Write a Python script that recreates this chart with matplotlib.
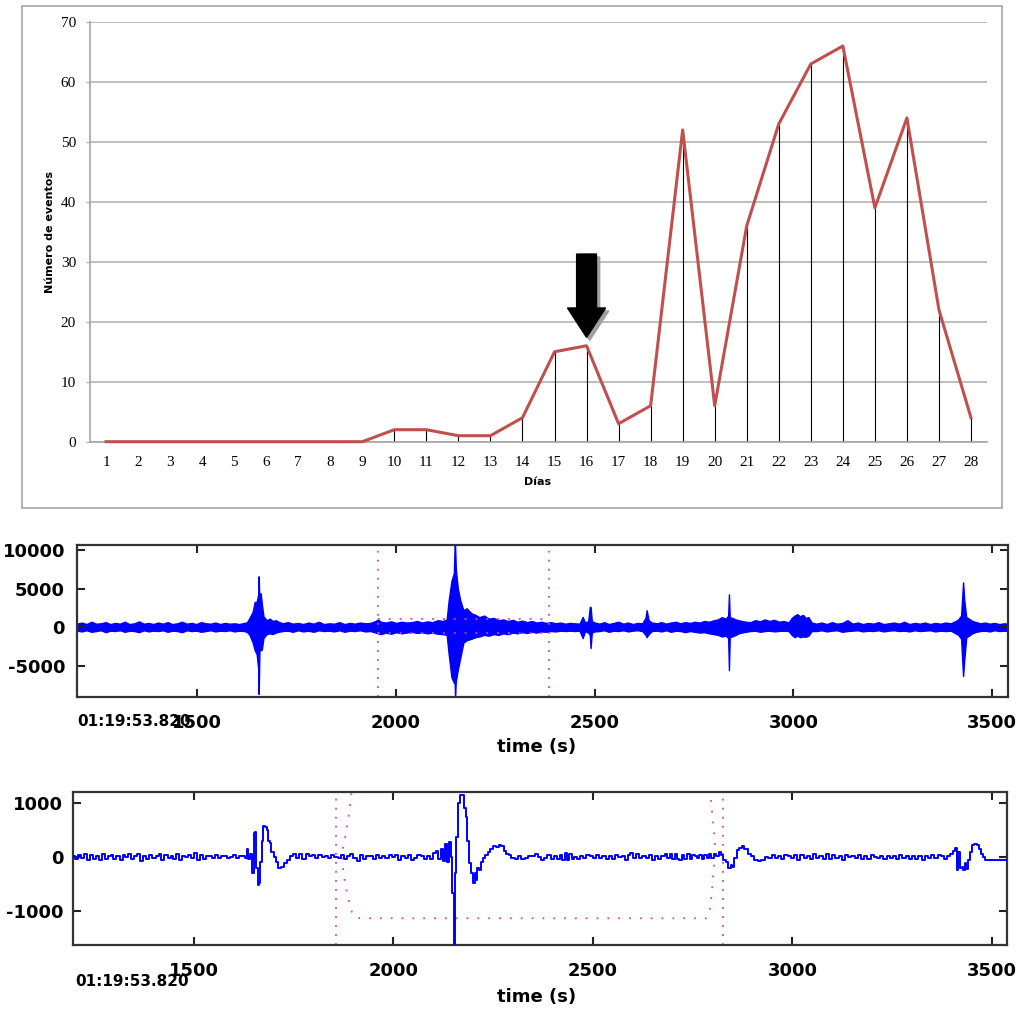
import matplotlib.pyplot as plt
from matplotlib.patches import FancyArrow, Rectangle

# ---- daily event counts (top chart) ----
days = list(range(1, 29))
counts = [0, 0, 0, 0, 0, 0, 0, 0, 0, 2, 2, 1, 1, 4, 15, 16, 3, 6,
          52, 6, 36, 53, 63, 66, 39, 54, 22, 4]
arrow_day = 16
arrow_tip, arrow_neck, arrow_top = 17.4, 22.3, 31.3

# ---- raw trace envelope (middle panel): time, upper, lower ----
raw_t = [1198, 1210, 1222, 1234, 1246, 1258, 1270, 1282, 1294, 1306, 1318, 1330,
         1342, 1354, 1366, 1378, 1390, 1402, 1414, 1426, 1438, 1450, 1462, 1474,
         1486, 1498, 1510, 1522, 1534, 1546, 1558, 1570, 1582, 1594, 1606, 1618,
         1625, 1632, 1640, 1645, 1650, 1654, 1655, 1657, 1660, 1663, 1667, 1675,
         1683, 1690, 1698, 1705,
         1715, 1728, 1741, 1754, 1767, 1780, 1793, 1806, 1819, 1832, 1845, 1858,
         1871, 1884, 1897, 1910, 1923, 1936, 1949, 1955, 1962, 1975, 1988, 2001,
         2014, 2027, 2040, 2053, 2066, 2079, 2092, 2105, 2118,
         2128, 2133, 2140, 2146, 2148, 2149, 2151, 2156, 2162, 2170, 2178, 2190,
         2200, 2210, 2222, 2234, 2246, 2258, 2270, 2282, 2294, 2306, 2318, 2330,
         2342, 2354, 2366, 2378, 2390, 2402, 2414, 2426, 2438, 2450, 2462,
         2470, 2476, 2484, 2488, 2490, 2493, 2500,
         2512, 2524, 2536, 2548, 2560, 2572, 2584, 2596, 2608, 2620,
         2628, 2631, 2636, 2644,
         2656, 2668, 2680, 2692, 2704, 2716, 2728, 2740, 2752, 2764, 2776, 2788,
         2800, 2810,
         2820, 2830, 2836, 2838, 2840, 2846, 2855, 2862, 2870, 2880,
         2892, 2904, 2916, 2928, 2940, 2952, 2964, 2976, 2988, 2996, 3003, 3010,
         3017, 3024, 3031, 3038, 3046,
         3058, 3071, 3084, 3097, 3110, 3123, 3136, 3149, 3162, 3175, 3188, 3201,
         3214, 3227, 3240, 3253, 3266, 3279, 3292, 3305, 3318, 3331, 3344, 3357,
         3370, 3383, 3396, 3408,
         3415, 3422, 3427, 3430, 3435, 3442, 3450, 3460, 3470,
         3482, 3494, 3506, 3518, 3530, 3540]
raw_hi = [450, 600, 400, 700, 450, 500, 650, 400, 550, 450, 700, 400,
          500, 750, 450, 550, 400, 600, 450, 650, 400, 500, 700, 450,
          550, 400, 650, 500, 450, 600, 400, 550, 450, 500, 400, 550,
          600, 1200, 2000, 3270, 3270, 4300, 6590, 3270, 4400, 3000, 1400, 900,
          1100, 800, 900, 700,
          500, 650, 450, 550, 400, 600, 450, 700, 400, 500, 450, 650,
          400, 550, 450, 600, 500, 550, 800, 1000, 700, 600, 750, 550,
          700, 600, 650, 800, 600, 750, 650, 900, 800,
          1000, 3500, 6000, 7000, 10700, 10700, 7500, 5000, 3500, 2200, 2450, 1800,
          1600, 1300, 1500, 1100, 1200, 900, 1000, 800, 950, 700, 850, 650,
          800, 600, 700, 550, 650, 500, 600, 450, 550, 500, 450,
          1330, 600, 800, 2620, 2620, 800, 600,
          450, 650, 400, 550, 700, 450, 600, 400, 550, 500,
          1200, 2200, 900, 600,
          500, 650, 450, 600, 700, 500, 650, 550, 700, 600, 800, 700,
          900, 1000,
          1300, 1100, 1500, 4260, 1300, 1200, 1000, 900, 800, 700,
          650, 900, 750, 1000, 800, 950, 700, 800, 600, 1200, 1500, 1680,
          1400, 1600, 1200, 1300, 600,
          450, 600, 400, 650, 450, 550, 900, 450, 600, 400, 550, 450,
          650, 400, 500, 600, 450, 700, 400, 550, 450, 600, 400, 550,
          450, 600, 500, 800,
          1000, 1500, 5810, 3500, 1300, 1100, 800, 650, 500,
          600, 450, 550, 400, 500, 450]
raw_lo = [-450, -550, -400, -600, -500, -400, -650, -450, -500, -400, -600, -450,
          -500, -650, -400, -550, -450, -500, -400, -600, -450, -500, -650, -400,
          -500, -450, -600, -500, -400, -550, -450, -500, -400, -550, -450, -500,
          -600, -1000, -2000, -2970, -3500, -5500, -8650, -3000, -3000, -2900, -1400, -900,
          -800, -900, -700, -600,
          -500, -450, -600, -400, -550, -450, -600, -400, -500, -450, -550, -400,
          -600, -450, -500, -400, -550, -500, -700, -800, -900, -700, -850, -650,
          -800, -700, -600, -750, -650, -800, -700, -850, -900,
          -1000, -3500, -6500, -7200, -7200, -8800, -7000, -5500, -4000, -2000, -1700, -1500,
          -1300, -1200, -1000, -1100, -900, -1000, -800, -900, -700, -800, -650, -750,
          -600, -700, -550, -600, -500, -550, -450, -500, -450, -500, -450,
          -1420, -500, -700, -1000, -2710, -700, -550,
          -500, -400, -600, -450, -500, -400, -550, -450, -400, -500,
          -1000, -1300, -900, -500,
          -450, -550, -400, -600, -450, -500, -650, -500, -600, -700, -650, -800,
          -900, -1000,
          -1200, -1100, -1400, -5560, -1300, -1200, -1000, -800, -700, -600,
          -500, -450, -600, -500, -450, -550, -480, -450, -500, -1000, -1300, -1100,
          -1300, -1200, -1250, -1100, -500,
          -500, -400, -550, -450, -400, -600, -500, -450, -400, -550, -450, -500,
          -400, -550, -450, -400, -500, -450, -550, -400, -500, -450, -400, -550,
          -450, -500, -450, -800,
          -1000, -1500, -6330, -4260, -1300, -1100, -800, -600, -500,
          -450, -550, -400, -500, -450, -500]
raw_marks = [1955, 2386]
raw_levels = [1030, -775]

# ---- filtered trace (bottom panel) ----
flt_t = [1198, 1205, 1212, 1220, 1228, 1235, 1242, 1250, 1258, 1265, 1272, 1280,
         1287, 1295, 1302, 1310, 1318, 1325, 1332, 1340, 1347, 1355, 1362, 1370,
         1377, 1385, 1392, 1400, 1408, 1415, 1422, 1430, 1438, 1445, 1452, 1460,
         1467, 1475, 1482, 1490, 1497, 1505, 1512, 1520, 1527, 1535, 1542, 1550,
         1557, 1565, 1572, 1580, 1587, 1595, 1602, 1610, 1618, 1625, 1630, 1634,
         1638, 1643, 1648, 1652, 1655, 1658, 1661, 1664, 1668, 1672, 1676, 1680,
         1685, 1689, 1692, 1697, 1703, 1708, 1715, 1722, 1730, 1738, 1745, 1752,
         1760, 1768, 1776, 1784, 1792, 1800, 1808, 1816, 1824, 1832, 1840, 1848,
         1856, 1864, 1872, 1880, 1888, 1896, 1904, 1912, 1920, 1928, 1936, 1944,
         1952, 1960, 1968, 1976, 1984, 1992, 2000, 2008, 2016, 2024, 2032, 2040,
         2048, 2056, 2064, 2072, 2080, 2088, 2096, 2104, 2110, 2116, 2122, 2128,
         2133, 2137, 2142, 2146, 2150, 2153, 2156, 2160, 2165, 2169, 2175, 2179,
         2183, 2188, 2192, 2197, 2202, 2205, 2208, 2212, 2217, 2223, 2228, 2233,
         2240, 2246, 2253, 2260, 2267, 2274, 2280, 2286, 2292, 2300, 2309, 2316,
         2324, 2334, 2342, 2350, 2358, 2366, 2374, 2382, 2390, 2398, 2406, 2414,
         2420, 2426, 2432, 2438, 2444, 2450, 2456, 2464, 2472, 2480, 2488, 2496,
         2504, 2512, 2520, 2528, 2536, 2544, 2552, 2560, 2568, 2576, 2584, 2590,
         2598, 2604, 2612, 2620, 2628, 2636, 2644, 2652, 2660, 2668, 2676, 2684,
         2690, 2696, 2702, 2708, 2714, 2720, 2726, 2732, 2740, 2746, 2752, 2758,
         2764, 2770, 2776, 2782, 2788, 2794, 2800, 2806, 2812, 2818, 2824, 2830,
         2836, 2843, 2847, 2851, 2857, 2864, 2870, 2877, 2883, 2893, 2900, 2910,
         2918, 2927, 2935, 2944, 2952, 2960, 2968, 2976, 2984, 2992, 3000, 3008,
         3016, 3024, 3032, 3040, 3048, 3056, 3064, 3072, 3080, 3088, 3096, 3104,
         3112, 3120, 3128, 3136, 3144, 3152, 3160, 3168, 3176, 3184, 3192, 3200,
         3208, 3216, 3224, 3232, 3240, 3248, 3256, 3264, 3272, 3280, 3288, 3296,
         3304, 3312, 3320, 3328, 3336, 3344, 3352, 3360, 3368, 3376, 3384, 3392,
         3400, 3406, 3410, 3414, 3418, 3422, 3426, 3430, 3434, 3438, 3442, 3447,
         3453, 3459, 3465, 3470, 3475, 3480, 3486, 3492, 3500, 3510, 3520, 3540]
flt_v = [20, -40, 30, -20, 50, -60, 40, -30, 20, -50, 60, -40,
         10, 40, -30, 20, -60, 30, 0, 50, -40, 10, 60, -70,
         20, -30, 40, -20, 10, 50, -60, 30, -10, 20, -40, 60,
         -50, 20, 0, 30, -20, 70, -60, 40, -30, 10, 20, -10,
         30, -20, 10, 20, -10, 0, 30, -20, 10, 20, -10, 150,
         -40, 60, -300, 440, 470, -200, -520, -480, -100, 300, 575, 560,
         500, 300, 260, 100, 0, -100, -200, -180, -120, -60, 20, 60,
         -20, 50, -30, 60, 10, 40, -20, 30, 0, 20, -10, 30,
         0, -20, 40, -30, 10, 60, -20, -70, 30, -40, 20, 10,
         -30, 40, -10, 20, -20, 30, 0, 40, -50, 10, -20, 30,
         -60, -20, 40, 10, -40, 20, -30, 80, 120, -40, 150, -80,
         250, -100, 285, 0, -670, -1650, -300, 375, 1000, 1150, 1140, 900,
         745, 300, -110, -300, -485, -300, -420, -200, -250, -100, -20, 30,
         100, 150, 200, 180, 225, 200, 120, 60, 30, -20, -40, 20,
         -30, -10, 20, 10, 60, 0, -60, -20, 30, -40, 10, -30,
         40, -50, 80, -60, 50, -40, 0, -30, 20, -10, 40, 20,
         -20, 40, -10, 10, -30, 20, -40, 30, 0, 20, -50, 40,
         70, -20, 50, -10, 20, -20, 30, -60, 10, -30, 20, 60,
         -20, 60, -40, 50, -40, -60, 30, -40, 50, -30, 40, 10,
         -20, 30, -40, 40, -20, 50, -10, 60, 20, 100, 30, -60,
         -100, -210, -150, -180, -20, 130, 160, 205, 150, 50, 20, -50,
         -70, -60, 0, -20, 30, -10, 20, -30, 40, 10, -20, 30,
         -50, 40, -10, 20, -30, 50, -20, 20, -40, 60, -30, 30,
         -10, 10, -50, 30, 0, 20, -20, 30, -40, 10, -30, 40,
         0, -20, 20, -30, 10, -10, 20, -40, 30, -20, 10, -40,
         20, -30, 10, -50, 20, -10, 30, -20, 40, 10, -30, 20,
         60, 120, 160, -240, 100, -200, -180, -240, -120, -220, -50, 100,
         225, 240, 230, 150, 60, 0, -50, -50, -50, -60, -50, -50]
taper_t = [1895, 1891, 1885, 1878, 1870, 1873, 1878, 1884, 1891, 1898, 1916,
           2785, 2793, 2797, 2800, 2803, 2806, 2806, 2803, 2800, 2796]
taper_v = [1180, 930, 620, 315, 37, -180, -425, -670, -890, -1075, -1135,
           -1135, -980, -735, -487, -240, 5, 250, 500, 750, 1055]
flt_marks = [1856, 2825]

time_ticks = [1500, 2000, 2500, 3000, 3500]
raw_yticks = [10000, 5000, 0, -5000]
flt_yticks = [1000, 0, -1000]
start_label = "01:19:53.820"

W, H = 1016, 1009
fig = plt.figure(figsize=(W / 100, H / 100), dpi=100)
fig.patch.set_facecolor("white")

# outer frame of the top chart
fig.patches.append(Rectangle((22 / W, 1 - 508 / H), 980 / W, 502 / H,
                             transform=fig.transFigure, fill=False,
                             edgecolor="#a6a6a6", linewidth=1.2))

# ---------------- top chart ----------------
ax = fig.add_axes([90 / W, 1 - 441.7 / H, 897 / W, 419.7 / H])
ax.set_xlim(0.5, 28.5)
ax.set_ylim(0, 70)
ax.set_yticks(range(0, 71, 10))
ax.set_xticks(days)
ax.yaxis.grid(True, color="#b3b3b3", linewidth=1.2)
ax.set_axisbelow(True)
for s in ["top", "right"]:
    ax.spines[s].set_visible(False)
for s in ["left", "bottom"]:
    ax.spines[s].set_color("#a6a6a6")
    ax.spines[s].set_linewidth(1.2)
ax.tick_params(axis="y", length=3, color="#a6a6a6", pad=7)
ax.tick_params(axis="x", length=0, pad=10)
for lab in ax.get_xticklabels() + ax.get_yticklabels():
    lab.set_fontfamily("Liberation Serif")
    lab.set_fontsize(11)

ax.vlines(days, 0, counts, color="black", linewidth=0.8, zorder=2)
ax.plot(days, counts, color="#c0504d", linewidth=2.2, zorder=3, clip_on=False)

ax.set_ylabel("Número de eventos", fontsize=8, fontweight="bold")
ax.yaxis.set_label_coords(-0.039, 0.5)
fig.text(538 / W, 1 - 482 / H, "Días", ha="center", va="center",
         fontsize=8, fontweight="bold")

# arrow with shadow
shadow = FancyArrow(arrow_day + 0.1, arrow_top - 0.5, 0, -(arrow_top - arrow_tip),
                    width=0.62, head_width=1.19, head_length=arrow_neck - arrow_tip,
                    length_includes_head=True, color="#a0a0a0", zorder=4)
ax.add_patch(shadow)
arrow = FancyArrow(arrow_day, arrow_top, 0, -(arrow_top - arrow_tip),
                   width=0.62, head_width=1.19, head_length=arrow_neck - arrow_tip,
                   length_includes_head=True, color="black", zorder=5)
ax.add_patch(arrow)


def style_trace_axes(a, yticks, ypad):
    a.set_xticks(time_ticks)
    a.set_xticklabels([str(v) for v in time_ticks], fontweight="bold")
    a.set_yticks(yticks)
    a.set_yticklabels([str(v) for v in yticks], fontweight="bold")
    a.tick_params(direction="in", length=6, width=1.5, top=True, right=True,
                  labelsize=13, color="#222222")
    a.tick_params(axis="x", pad=12)
    a.tick_params(axis="y", pad=ypad)
    for s in a.spines.values():
        s.set_linewidth(1.6)
        s.set_color("#333333")


# ---------------- middle panel: raw trace ----------------
ax2 = fig.add_axes([77 / W, 1 - 697 / H, 931 / W, 152 / H])
ax2.fill_between(raw_t, raw_lo, raw_hi, color="#0000ff", linewidth=1.0,
                 edgecolor="#0000ff")
for t in raw_marks:
    ax2.axvline(t, ymax=0.96, color="#cc44cc", linestyle=(0, (1, 4)), linewidth=1.3)
ax2.hlines(raw_levels, raw_marks[0], raw_marks[1] - 16, color="#cc44cc",
           linestyle=(0, (1, 5)), linewidth=1.3)
ax2.set_xlim(1198, 3540)
ax2.set_ylim(-9050, 10650)
style_trace_axes(ax2, raw_yticks, 8.6)
fig.text(77 / W, 1 - 721 / H, start_label, ha="left", va="center",
         fontsize=11, fontweight="bold")
fig.text(537 / W, 1 - 747 / H, "time (s)", ha="center", va="center",
         fontsize=13, fontweight="bold")

# ---------------- bottom panel: filtered trace ----------------
ax3 = fig.add_axes([73 / W, 1 - 945 / H, 934 / W, 153 / H])
ax3.plot(flt_t, flt_v, color="#0000ff", linewidth=1.4, drawstyle="steps-mid",
         zorder=3)
for t in flt_marks:
    ax3.axvline(t, color="#cc44cc", linestyle=(0, (1, 4)), linewidth=1.3)
ax3.plot(taper_t, taper_v, color="#cc44cc", linestyle=(0, (1, 5)), linewidth=1.3)
ax3.set_xlim(1197, 3538)
ax3.set_ylim(-1630, 1204)
style_trace_axes(ax3, flt_yticks, 7)
fig.text(75 / W, 1 - 982 / H, start_label, ha="left", va="center",
         fontsize=11, fontweight="bold")
fig.text(537 / W, 1 - 997 / H, "time (s)", ha="center", va="center",
         fontsize=13, fontweight="bold")

fig.savefig("out.png", dpi=100)
